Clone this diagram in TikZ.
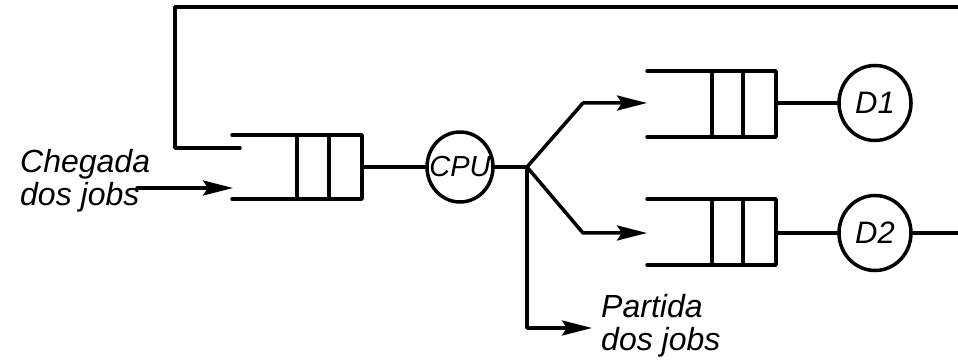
\documentclass[tikz,border=0pt]{standalone}
\usepackage{fontspec}
\setmainfont{Liberation Sans}
\usetikzlibrary{arrows.meta,shapes.geometric}
\tikzset{
  ln/.style={line width=3.5pt, line cap=round, line join=round},
  arr/.style={ln, -{Stealth[length=30pt,width=15pt,inset=5pt]}},
  srv/.style={ellipse, draw, line width=3.5pt, minimum width=72pt, minimum height=75pt, inner sep=0pt},
  srvtxt/.style={inner sep=0pt, font=\itshape\fontsize{31}{33}\selectfont},
  lbl/.style={align=left, anchor=north west, inner sep=0pt, font=\itshape\fontsize{32}{33}\selectfont}
}
\begin{document}
\begin{tikzpicture}[x=1pt,y=-1pt]
\useasboundingbox (0,0) rectangle (958,363);
% queue 1
\draw[ln] (232,135) -- (362,135) -- (362,199) -- (232,199);
\draw[ln] (297,135) -- (297,199) (329,135) -- (329,199);
% queue D1
\draw[ln] (647,71) -- (776,71) -- (776,137) -- (647,137);
\draw[ln] (712,71) -- (712,137) (743,71) -- (743,137);
% queue D2
\draw[ln] (647,199) -- (776,199) -- (776,265) -- (647,265);
\draw[ln] (712,199) -- (712,265) (743,199) -- (743,265);
% coordinates
\coordinate (q1in) at (233,188);
\coordinate (q1fb) at (240,148);
\coordinate (q1out) at (362,167);
\coordinate (d1in) at (647,103);
\coordinate (d1out) at (776,103);
\coordinate (d2in) at (647,233);
\coordinate (d2out) at (776,233);
\coordinate (jn) at (527,167);
\coordinate (up) at (583,103);
\coordinate (dn) at (583,233);
\coordinate (pd) at (527,328);
\coordinate (pdend) at (592,328);
\coordinate (arrstart) at (137,188);
\coordinate (fbR) at (958,233);
\coordinate (fbTR) at (958,7);
\coordinate (fbTL) at (175,7);
\coordinate (fbBL) at (175,148);
% servers
\node[srv, minimum width=66pt, minimum height=70pt] (cpu) at (460,167) {};
\node[srvtxt, font=\itshape\fontsize{29}{31}\selectfont] (cput) at (cpu) {CPU};
\node[srv] (d1) at (875,103) {};
\node[srvtxt] (d1t) at (d1) {D1};
\node[srv] (d2) at (875,233) {};
\node[srvtxt] (d2t) at (d2) {D2};
% labels
\node[lbl] (cheg) at (20,149) {Chegada\\dos jobs};
\node[lbl] (part) at (601,294) {Partida\\dos jobs};
% connectors
\draw[arr] (arrstart) -- (q1in);
\draw[ln] (q1out) -- (cpu.west);
\draw[ln] (cpu.east) -- (jn);
\draw[arr] (jn) -- (up) -- (d1in);
\draw[arr] (jn) -- (dn) -- (d2in);
\draw[arr] (jn) -- (pd) -- (pdend);
\draw[ln] (d1out) -- (d1.west);
\draw[ln] (d2out) -- (d2.west);
\draw[ln] (d2.east) -- (fbR);
\draw[ln] (fbTR) -- (fbTL) -- (fbBL) -- (q1fb);
\end{tikzpicture}
\end{document}
